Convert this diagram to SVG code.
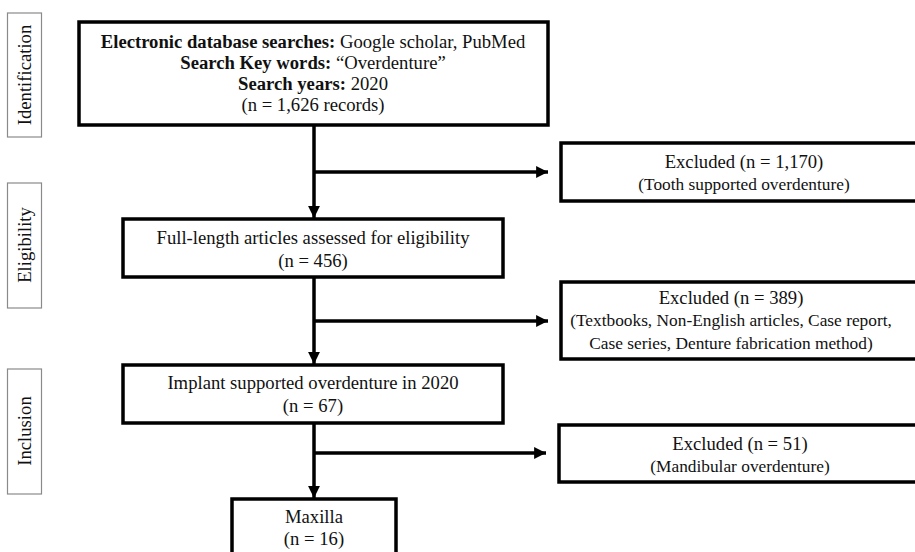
<svg xmlns="http://www.w3.org/2000/svg" width="915" height="552" viewBox="0 0 915 552">
<defs>
<style>
.box{fill:#fff;stroke:#000;stroke-width:3.5}
.side{fill:#fff;stroke:#8a8a8a;stroke-width:1.2}
.t{font-family:"Liberation Serif","Times New Roman",serif;font-size:18.67px;fill:#111;text-anchor:middle}
.s{font-size:17.33px}
.b{font-weight:bold}
.ln{stroke:#000;stroke-width:3.5;fill:none}
</style>
<marker id="ah" viewBox="0 0 10 10" refX="10" refY="5" markerWidth="4" markerHeight="3.4" markerUnits="strokeWidth" orient="auto">
<path d="M0,0 L10,5 L0,10 z" fill="#000"/>
</marker>
</defs>
<rect width="915" height="552" fill="#fff"/>

<g id="side-identification">
<rect class="side" x="7.5" y="13" width="34" height="124"/>
<text class="t" transform="translate(31,75) rotate(-90)">Identification</text>
</g>
<g id="side-eligibility">
<rect class="side" x="7.5" y="183" width="34" height="125"/>
<text class="t" transform="translate(31,245) rotate(-90)">Eligibility</text>
</g>
<g id="side-inclusion">
<rect class="side" x="7.5" y="369" width="34" height="125"/>
<text class="t" transform="translate(31,431) rotate(-90)">Inclusion</text>
</g>

<g id="connectors">
<line class="ln" x1="314" y1="125" x2="314" y2="218" marker-end="url(#ah)"/>
<line class="ln" x1="314" y1="172" x2="548" y2="172" marker-end="url(#ah)"/>
<line class="ln" x1="314" y1="277" x2="314" y2="364" marker-end="url(#ah)"/>
<line class="ln" x1="314" y1="321" x2="548" y2="321" marker-end="url(#ah)"/>
<line class="ln" x1="314" y1="423" x2="314" y2="498" marker-end="url(#ah)"/>
<line class="ln" x1="314" y1="453" x2="546" y2="453" marker-end="url(#ah)"/>
</g>

<g id="search">
<rect class="box" x="79" y="22" width="469" height="103"/>
<text class="t" x="313" y="48"><tspan class="b">Electronic database searches:</tspan> Google scholar, PubMed</text>
<text class="t" x="313" y="69"><tspan class="b">Search Key words:</tspan> “Overdenture”</text>
<text class="t" x="313" y="90"><tspan class="b">Search years:</tspan> 2020</text>
<text class="t" x="313" y="111">(n = 1,626 records)</text>
</g>

<g id="excluded1">
<rect class="box" x="561" y="143" width="370" height="58"/>
<text class="t" x="744" y="168">Excluded (n = 1,170)</text>
<text class="t s" x="744" y="190">(Tooth supported overdenture)</text>
</g>

<g id="fulltext">
<rect class="box" x="123" y="219" width="380" height="58"/>
<text class="t" x="313" y="244">Full-length articles assessed for eligibility</text>
<text class="t" x="313" y="267">(n = 456)</text>
</g>

<g id="excluded2">
<rect class="box" x="561" y="282" width="370" height="77"/>
<text class="t" x="731" y="304">Excluded (n = 389)</text>
<text class="t s" x="731" y="326">(Textbooks, Non-English articles, Case report,</text>
<text class="t s" x="731" y="349">Case series, Denture fabrication method)</text>
</g>

<g id="implant">
<rect class="box" x="123" y="365" width="380" height="58"/>
<text class="t" x="313" y="389">Implant supported overdenture in 2020</text>
<text class="t" x="313" y="412">(n = 67)</text>
</g>

<g id="excluded3">
<rect class="box" x="559" y="425" width="372" height="57"/>
<text class="t" x="740" y="450">Excluded (n = 51)</text>
<text class="t s" x="740" y="472">(Mandibular overdenture)</text>
</g>

<g id="maxilla">
<rect class="box" x="232" y="499" width="164" height="70"/>
<text class="t" x="314" y="523">Maxilla</text>
<text class="t" x="314" y="545">(n = 16)</text>
</g>
</svg>
